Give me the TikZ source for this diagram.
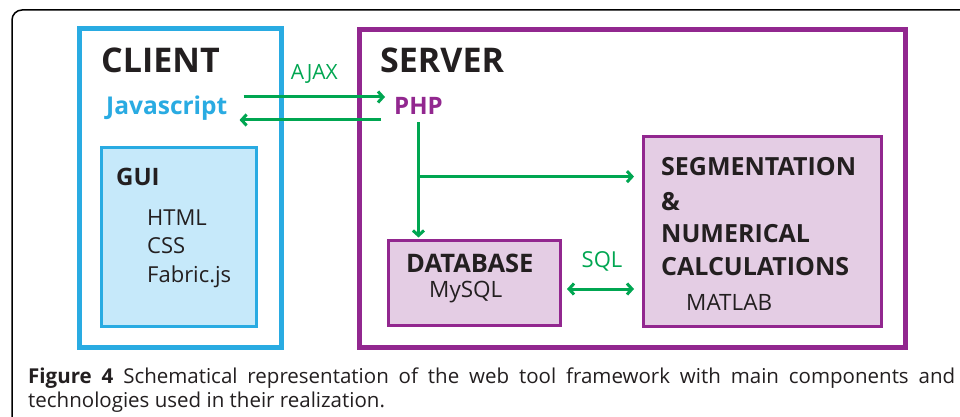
\documentclass[tikz,border=0pt]{standalone}
\usepackage{fontspec}
\setmainfont{Open Sans}
\usetikzlibrary{arrows.meta,calc}

\definecolor{clientblue}{HTML}{29ABE2}
\definecolor{guiblue}{HTML}{C6E9FA}
\definecolor{serverpurple}{HTML}{92278F}
\definecolor{boxpink}{HTML}{E4CDE4}
\definecolor{linkgreen}{HTML}{00A651}
\definecolor{inkblack}{HTML}{231F20}

\tikzstyle{arrow} = [line width=3pt, ->, >={Straight Barb[length=5pt,width=11pt]}, linkgreen]
\tikzstyle{frame} = [draw, line width=5pt, inner sep=0pt]
\tikzstyle{subbox} = [draw=serverpurple, line width=3pt, fill=boxpink, inner sep=0pt]
\tikzstyle{txt} = [inner sep=0pt, anchor=base west, text=inkblack]
\newcommand{\fs}[1]{\fontsize{#1}{#1}\selectfont}

\begin{document}
\begin{tikzpicture}[x=1pt,y=-1pt]
			\fill[white] (0,0) rectangle (960,417);
			\useasboundingbox (0,0) rectangle (960,417);
			\draw[line width=1.5pt, rounded corners=10pt] (12,417) |- (960,10);
			% boxes
			\node[frame, draw=clientblue, minimum width=202pt, minimum height=318pt] (client) at (180,188) {};
			\node[draw=clientblue, line width=3pt, fill=guiblue, minimum width=155pt, minimum height=179pt] (gui) at (179,237) {};
			\node[frame, draw=serverpurple, minimum width=546pt, minimum height=318pt] (server) at (632.5,188.5) {};
			\node[subbox, minimum width=172pt, minimum height=85pt] (database) at (474.5,283) {};
			\node[subbox, minimum width=238pt, minimum height=190pt] (segment) at (762.5,231.5) {};
			% client side
			\node[txt, font=\bfseries\fs{34}] (clienttitle) at (101,73) {CLIENT};
			\node[txt, font=\bfseries\fs{24.5}, text=clientblue] (javascript) at (106,114) {Javascript};
			\node[txt, font=\bfseries\fs{24}] (guititle) at (116,185) {GUI};
			\foreach \name/\y/\label in {html/225/HTML, css/253/CSS, fabric/282/Fabric.js} {
			\node[txt, font=\fs{22}] (\name) at (147,\y) {\label};
			}
			% server side
			\node[txt, font=\bfseries\fs{34}] (servertitle) at (380,73) {SERVER};
			\node[txt, font=\bfseries\fs{24}, text=serverpurple] (php) at (394,114) {PHP};
			\node[txt, font=\bfseries\fs{25.5}] (dbtitle) at (406,272) {DATABASE};
			\node[txt, font=\fs{22.5}] (mysql) at (429,297) {MySQL};
			\foreach \name/\y/\label in {seg/175/SEGMENTATION, amp/210/\&, num/242/NUMERICAL, calcs/275/CALCULATIONS} {
			\node[txt, font=\bfseries\fs{25}] (\name) at (661,\y) {\label};
			}
			\node[txt, font=\fs{22.5}] (matlab) at (686,310) {MATLAB};
			% connectors
			\draw[arrow] ([xshift=16pt,yshift=17pt]javascript.base east) -- ([xshift=-9pt,yshift=17pt]php.base west)
				node[midway, above=12pt, inner sep=0pt, font=\fs{21}, text=linkgreen] (ajax) {AJAX};
			\draw[arrow] ([xshift=-13pt,yshift=-6pt]php.base west) -- ([xshift=12pt,yshift=-6pt]javascript.base east);
			\coordinate (fork) at ($(php.south)!0.5!(php.south |- database.north)$);
			\draw[arrow, shorten >=1.5pt] ([yshift=-8pt]php.south) -- (php.south |- database.north);
			\draw[arrow, shorten >=8pt] (fork) -- (fork -| segment.west);
			\coordinate (sqlleft) at ([yshift=-6pt]database.east);
			\draw[arrow, <->, shorten <=5pt, shorten >=8pt] (sqlleft) -- (sqlleft -| segment.west)
				node[midway, above=16pt, inner sep=0pt, font=\fs{22}, text=linkgreen] (sql) {SQL};
			% caption
			\node[txt, font=\fs{20.5}] (caption1) at (28,383) {\makebox[927pt][s]{\textbf{Figure 4} Schematical representation of the web tool framework with main components and}};
			\node[txt, font=\fs{20.5}] (caption2) at (28,407) {technologies used in their realization.};
\end{tikzpicture}
\end{document}
